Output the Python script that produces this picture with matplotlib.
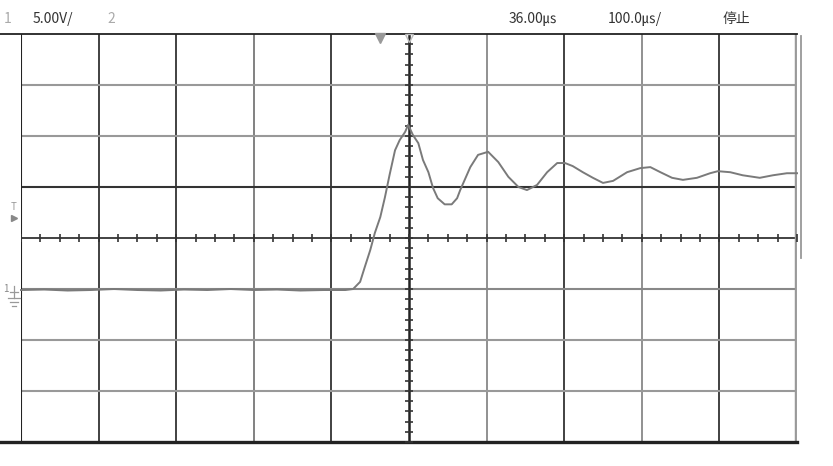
import matplotlib.pyplot as plt
import numpy as np

plt.rcParams['font.family'] = ['Noto Sans CJK SC', 'DejaVu Sans']

# scope settings: 5 V/div, 100 us/div, 10 x 8 divisions
volts_per_div = 5.0
time_per_div = 100.0

# trace (time in us from trigger, volts)
t_us = [-500, -470, -440, -410, -380, -350, -320, -290, -260, -230, -200,
        -170, -140, -110, -82, -72, -63, -57, -50, -44, -37, -31, -25, -18,
        -12, -5, -1, 5, 12, 18, 25, 31, 37, 46, 55, 62, 66, 79, 89, 102,
        115, 128, 141, 152, 165, 178, 191, 201, 211, 224, 237, 250, 263,
        281, 298, 311, 324, 339, 353, 371, 388, 398, 414, 430, 452, 469,
        487, 500]
v_trace = [-5.1, -5.05, -5.15, -5.1, -5.0, -5.1, -5.15, -5.05, -5.1, -5.0,
           -5.1, -5.05, -5.15, -5.1, -5.1, -5.0, -4.3, -2.85, -1.2, 0.5,
           2.05, 4.0, 6.2, 8.6, 9.6, 10.4, 11.1, 10.1, 9.3, 7.65, 6.45,
           4.9, 3.9, 3.3, 3.3, 3.9, 4.7, 6.95, 8.15, 8.45, 7.45, 6.0, 5.0,
           4.7, 5.2, 6.45, 7.35, 7.35, 7.05, 6.45, 5.9, 5.4, 5.6, 6.45,
           6.85, 6.95, 6.45, 5.9, 5.7, 5.9, 6.35, 6.55, 6.45, 6.15, 5.9,
           6.15, 6.35, 6.35]

header_left = ['1', '5.00V/', '2']
header_right = ['36.00\u33b2', '100.0\u33b2/', '停止']

W, H = 833, 466
fig = plt.figure(figsize=(W / 100, H / 100), dpi=100)
fig.patch.set_facecolor('white')
ax = fig.add_axes([21 / W, (H - 442) / H, 776 / W, 408 / H])
ax.set_xlim(-5, 5)
ax.set_ylim(-4, 4)
ax.axis('off')

# graticule (mix of dark and grey lines like the screenshot)
vcol = {-4: '#333333', -3: '#333333', -2: '#777777', -1: '#333333',
        1: '#888888', 2: '#333333', 3: '#888888', 4: '#333333'}
for k, c in vcol.items():
    ax.axvline(k, color=c, lw=1.3)
hcol = {3: '#999999', 2: '#999999', 1: '#333333', -1: '#888888',
        -2: '#999999', -3: '#999999'}
for k, c in hcol.items():
    ax.axhline(k, color=c, lw=1.5)
ax.axhline(0, color='#222222', lw=1.2)
ax.axvline(0, color='#222222', lw=1.8)
ax.axvline(-5, color='#222222', lw=1.5)
ax.axvline(5, color='#999999', lw=3.2)
ax.axvline(5, color='white', lw=0.8)
# frame lines that run to the left edge
ax.plot([-5.27, 5], [4, 4], color='#222222', lw=1.3, clip_on=False)
ax.plot([-5.27, 5], [-4, -4], color='#222222', lw=2.4, clip_on=False)

# minor ticks on the centre axes
xt = np.arange(-5, 5.01, 0.25)
ax.plot(xt, np.zeros_like(xt), ls='none', marker='|', ms=6, mew=1.2, color='#333333')
yt = np.arange(-4, 4.01, 0.2)
ax.plot(np.zeros_like(yt), yt, ls='none', marker='_', ms=6, mew=1.2, color='#333333')

# signal trace
ax.plot(np.array(t_us) / time_per_div, np.array(v_trace) / volts_per_div,
        color='#7a7a7a', lw=1.4, clip_on=False)

# trigger markers
ax.plot([-0.37], [3.93], marker='v', ms=7, color='#999999', clip_on=False)
ax.plot([0.0], [3.93], marker='v', ms=6, mfc='none', mec='#bbbbbb', clip_on=False)
fig.text(14 / W, 1 - 207 / H, 'T', color='#999999', fontsize=7, ha='center', va='center')
ax.plot([-5.09], [0.4], marker='>', ms=5, color='#888888', clip_on=False)

# channel 1 ground marker
fig.text(6 / W, 1 - 289 / H, '1', color='#888888', fontsize=7, ha='center', va='center')
for yy, x0, x1 in [(292, 10, 18), (298, 8, 20), (302, 10, 18), (306, 12, 16)]:
    fig.add_artist(plt.Line2D([x0 / W, x1 / W], [1 - yy / H, 1 - yy / H], color='#999999', lw=0.9))
fig.add_artist(plt.Line2D([14 / W, 14 / W], [1 - 286 / H, 1 - 298 / H], color='#999999', lw=0.9))

# scroll bar on the right
fig.add_artist(plt.Line2D([801 / W, 801 / W], [1 - 36 / H, 1 - 258 / H], color='#999999', lw=1.3))

# header text
hy = 1 - 19 / H
fig.text(8 / W, hy, header_left[0], color='#aaaaaa', fontsize=10, ha='center', va='center')
fig.text(33 / W, hy, header_left[1], color='#333333', fontsize=10, ha='left', va='center')
fig.text(111 / W, hy, header_left[2], color='#aaaaaa', fontsize=10, ha='center', va='center')
fig.text(533 / W, hy, header_right[0], color='#333333', fontsize=10, ha='center', va='center')
fig.text(635 / W, hy, header_right[1], color='#333333', fontsize=10, ha='center', va='center')
fig.text(736 / W, hy, header_right[2], color='#333333', fontsize=10, ha='center', va='center')

plt.savefig('out.png', dpi=100)
